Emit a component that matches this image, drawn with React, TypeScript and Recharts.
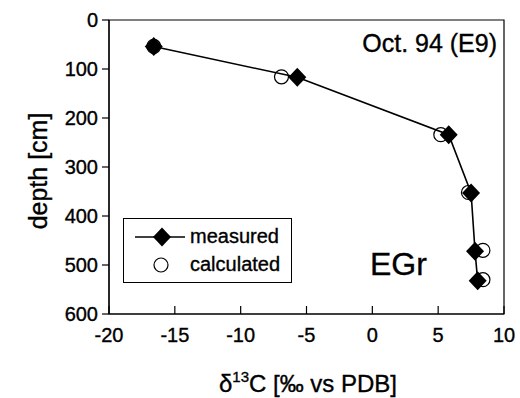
import React from "react";
import { Legend, ReferenceArea, Scatter, ScatterChart, XAxis, YAxis } from "recharts";

const FONT = "'Liberation Sans', Arial, Helvetica, sans-serif";

// d13C [permil vs PDB] against depth [cm], Oct. 94 (E9)
const measuredD13C = [-16.6, -5.7, 5.8, 7.5, 7.8, 8.0];
const measuredDepth = [54, 117, 234, 353, 472, 532];
const calculatedD13C = [-16.6, -6.9, 5.2, 7.3, 8.4, 8.4];
const calculatedDepth = [54, 116, 234, 352, 470, 530];

const xTicks = [-20, -15, -10, -5, 0, 5, 10];
const yTicks = [0, 100, 200, 300, 400, 500, 600];

const measured = measuredD13C.map((d, i) => ({ d13c: d, depth: measuredDepth[i] }));
const calculated = calculatedD13C.map((d, i) => ({ d13c: d, depth: calculatedDepth[i] }));

// slight stroke on text to mimic the heavier print of the original
const ink = { fill: "#000", stroke: "#000", strokeWidth: 0.35, fontFamily: FONT };

const Diamond = ({ cx, cy }: any) => (
  <polygon
    points={`${cx},${cy - 9.5} ${cx + 9},${cy} ${cx},${cy + 9.5} ${cx - 9},${cy}`}
    fill="#000"
  />
);

const OpenCircle = ({ cx, cy }: any) => (
  <circle cx={cx} cy={cy} r={7} fill="#fff" stroke="#000" strokeWidth={1.2} />
);

// x ticks point up into the plot
const XTick = ({ x, y, payload }: any) => (
  <g>
    <line x1={x} y1={y} x2={x} y2={y - 8} stroke="#000" strokeWidth={1.2} />
    <text x={x} y={y + 28} textAnchor="middle" fontSize={20} {...ink}>
      {payload.value}
    </text>
  </g>
);

const LegendBox = () => (
  <svg width={170} height={66} style={{ display: "block" }}>
    <rect x={0.5} y={0.5} width={168} height={64} fill="#fff" stroke="#000" strokeWidth={1} />
    <line x1={12} y1={19} x2={62} y2={19} stroke="#000" strokeWidth={1.5} />
    <Diamond cx={39} cy={19} />
    <text x={67} y={25} fontSize={20} {...ink}>measured</text>
    <OpenCircle cx={38} cy={47} />
    <text x={67} y={53} fontSize={20} {...ink}>calculated</text>
  </svg>
);

export default function App() {
  return (
    <div style={{ position: "absolute", left: 0, top: 0, width: 520, height: 398, background: "#fff" }}>
      <ScatterChart
        width={520}
        height={398}
        margin={{ top: 20, right: 16, bottom: 44, left: 49 }}
        style={{ fontFamily: FONT }}
      >
        <XAxis
          type="number"
          dataKey="d13c"
          domain={[-20, 10]}
          ticks={xTicks}
          interval={0}
          height={40}
          tickSize={0}
          tickMargin={0}
          tick={<XTick />}
          axisLine={{ stroke: "#000", strokeWidth: 1.2 }}
          allowDataOverflow
        />
        <YAxis
          type="number"
          dataKey="depth"
          domain={[0, 600]}
          ticks={yTicks}
          interval={0}
          reversed
          width={60}
          tickSize={7}
          tickMargin={4}
          tick={{ fontSize: 20, ...ink }}
          tickLine={{ stroke: "#000", strokeWidth: 1.2 }}
          axisLine={{ stroke: "#000", strokeWidth: 1.2 }}
          allowDataOverflow
        />
        <ReferenceArea
          x1={-20}
          x2={10}
          y1={0}
          y2={600}
          fill="none"
          fillOpacity={0}
          stroke="#000"
          strokeWidth={1.2}
          ifOverflow="visible"
        />
        <Scatter
          name="calculated"
          data={calculated}
          shape={<OpenCircle />}
          isAnimationActive={false}
        />
        <Scatter
          name="measured"
          data={measured}
          line={{ stroke: "#000", strokeWidth: 1.6 }}
          lineType="joint"
          shape={<Diamond />}
          isAnimationActive={false}
        />
        <Legend
          layout="horizontal"
          verticalAlign="middle"
          align="center"
          content={<LegendBox />}
          wrapperStyle={{ position: "absolute", left: 123, top: 218, width: 170, height: 66, bottom: "auto" }}
        />
        <text x={497} y={52} textAnchor="end" fontSize={25} {...ink}>
          Oct. 94 (E9)
        </text>
        <text x={370} y={275} fontSize={32} {...ink}>
          EGr
        </text>
        <text x={308} y={392} textAnchor="middle" fontSize={24} {...ink}>
          δ<tspan fontSize={15} dy={-10}>13</tspan>
          <tspan dy={10}>C [‰ vs PDB]</tspan>
        </text>
        <text
          x={47}
          y={171}
          textAnchor="middle"
          fontSize={25}
          {...ink}
          transform="rotate(-90 47 171)"
        >
          depth [cm]
        </text>
      </ScatterChart>
    </div>
  );
}
